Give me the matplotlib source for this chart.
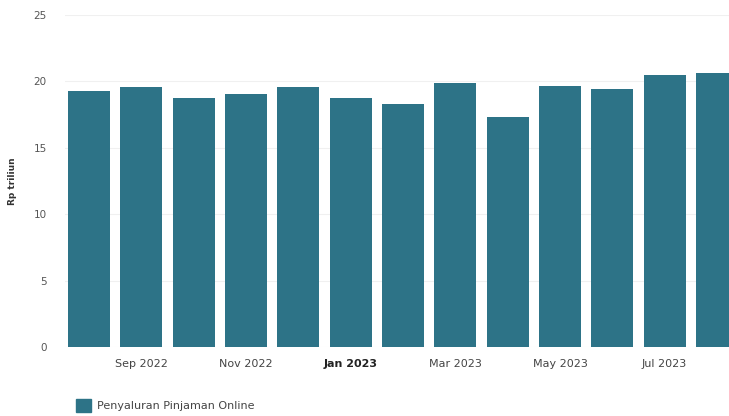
import matplotlib
matplotlib.use("Agg")
import matplotlib.pyplot as plt
from matplotlib.patches import Patch

# monthly online loan disbursement, Aug 2022 - Aug 2023 (Rp triliun)
months = ["Aug 2022", "Sep 2022", "Oct 2022", "Nov 2022", "Dec 2022", "Jan 2023",
          "Feb 2023", "Mar 2023", "Apr 2023", "May 2023", "Jun 2023", "Jul 2023", "Aug 2023"]
values = [19.28, 19.58, 18.77, 19.03, 19.58, 18.77, 18.3, 19.86, 17.3, 19.68, 19.43, 20.48, 20.63]
tick_labels = ["Sep 2022", "Nov 2022", "Jan 2023", "Mar 2023", "May 2023", "Jul 2023"]
yticks = [0, 5, 10, 15, 20, 25]

bar_color = "#2d7387"

fig = plt.figure(figsize=(7.29, 4.16), dpi=100)
ax = fig.add_axes([0.089, 0.166, 0.911, 0.798])

x = list(range(len(months)))
ax.bar(x, values, width=0.8, color=bar_color, zorder=2)

ax.set_ylim(0, 25)
ax.set_xlim(-0.46, 12.23)
ax.set_yticks(yticks)
ax.set_yticklabels([str(t) for t in yticks], fontsize=7.5, color="#555555")
ax.yaxis.grid(True, color="#f0f0f0", linewidth=0.8, zorder=0)

pos = [months.index(t) for t in tick_labels]
ax.set_xticks(pos)
ax.set_xticklabels(tick_labels, fontsize=8, color="#444444")
for lbl in ax.get_xticklabels():
    if lbl.get_text().startswith("Jan"):
        lbl.set_fontweight("bold")
        lbl.set_color("#222222")

ax.tick_params(axis="x", length=0, pad=9)
ax.tick_params(axis="y", length=0, pad=13)
for s in ax.spines.values():
    s.set_visible(False)

ax.set_ylabel("Rp triliun", fontsize=6.5, fontweight="bold", color="#333333")
ax.yaxis.set_label_coords(-0.072, 0.5)

fig.legend(handles=[Patch(color=bar_color, label="Penyaluran Pinjaman Online")],
           loc="lower left", bbox_to_anchor=(0.09, -0.015), frameon=False,
           fontsize=8, handlelength=1.4, handleheight=1.5, handletextpad=0.5,
           labelcolor="#444444")

fig.savefig("out.png", dpi=100)
